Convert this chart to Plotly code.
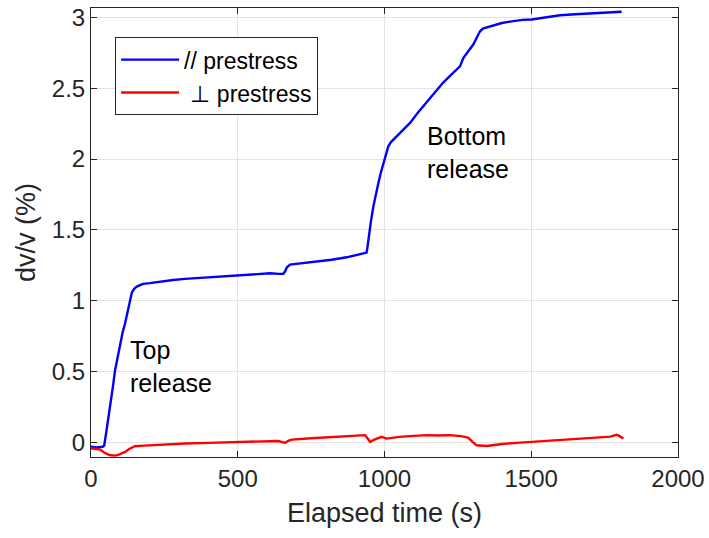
import plotly.graph_objects as go

# // prestress (blue)
par_t = [0, 20, 40, 45, 53, 60, 67, 75, 82, 90, 99, 108, 116, 124, 131, 139, 147, 156, 167, 178,
         200, 230, 260, 280, 320, 360, 400, 450, 496, 540, 580, 610, 640, 655, 662, 667, 678, 700,
         740, 780, 820, 871, 910, 939, 942, 945, 953, 962, 970, 979, 987, 996, 1005, 1013, 1022,
         1030, 1060, 1087, 1115, 1144, 1172, 1200, 1225, 1246, 1257, 1269, 1291, 1303, 1315, 1325,
         1335, 1360, 1400, 1428, 1470, 1501, 1540, 1598, 1650, 1711, 1760, 1790, 1808]
par_v = [-0.03, -0.035, -0.03, -0.02, 0.087, 0.18, 0.275, 0.40, 0.51, 0.60, 0.70, 0.78, 0.84, 0.92,
         0.98, 1.057, 1.085, 1.10, 1.11, 1.12, 1.125, 1.135, 1.14, 1.147, 1.155, 1.16, 1.168, 1.175,
         1.18, 1.185, 1.19, 1.194, 1.19, 1.19, 1.21, 1.235, 1.255, 1.26, 1.27, 1.276, 1.29, 1.307,
         1.325, 1.34, 1.38, 1.43, 1.55, 1.665, 1.75, 1.83, 1.90, 1.97, 2.04, 2.09, 2.12, 2.136, 2.2,
         2.255, 2.33, 2.40, 2.47, 2.54, 2.59, 2.63, 2.654, 2.714, 2.78, 2.81, 2.86, 2.90, 2.92, 2.937,
         2.96, 2.97, 2.982, 2.985, 2.995, 3.015, 3.022, 3.03, 3.036, 3.042, 3.04]

# ⊥ prestress (red)
perp_t = [0, 15, 31, 45, 59, 70, 82, 95, 105, 116, 130, 150, 180, 207, 260, 320, 400, 491, 560, 638,
          650, 661, 672, 684, 750, 820, 880, 934, 942, 951, 965, 990, 1007, 1050, 1100, 1144, 1180,
          1223, 1260, 1285, 1300, 1314, 1348, 1400, 1450, 1496, 1550, 1609, 1660, 1723, 1770, 1790,
          1797, 1814]
perp_v = [-0.04, -0.045, -0.05, -0.07, -0.085, -0.09, -0.092, -0.085, -0.075, -0.066, -0.045, -0.026,
          -0.022, -0.019, -0.012, -0.007, -0.002, 0.004, 0.008, 0.011, 0.005, -0.003, 0.012, 0.021,
          0.03, 0.04, 0.045, 0.052, 0.03, 0.004, 0.02, 0.04, 0.028, 0.04, 0.047, 0.052, 0.05, 0.052,
          0.045, 0.035, 0.005, -0.019, -0.024, -0.01, -0.002, 0.004, 0.012, 0.021, 0.028, 0.035,
          0.042, 0.055, 0.05, 0.028]

x_ticks = [0, 500, 1000, 1500, 2000]
y_ticks = [0, 0.5, 1, 1.5, 2, 2.5, 3]
y_tick_labels = ["0", "0.5", "1", "1.5", "2", "2.5", "3"]

FONT = "Liberation Sans, Arial, sans-serif"
AX = "#262626"

fig = go.Figure()
fig.add_trace(go.Scatter(x=par_t, y=par_v, mode="lines", name="// prestress",
                         line=dict(color="#0000ff", width=2.4)))
fig.add_trace(go.Scatter(x=perp_t, y=perp_v, mode="lines", name=" ⊥ prestress",
                         line=dict(color="#ff0000", width=2.4)))

fig.add_annotation(x=126, y=0.54, xref="x", yref="y", text="Top<br>release", showarrow=False,
                   xanchor="left", yanchor="middle", align="left",
                   font=dict(family=FONT, size=25, color="#000000"))
fig.add_annotation(x=1138, y=2.05, xref="x", yref="y", text="Bottom<br>release", showarrow=False,
                   xanchor="left", yanchor="middle", align="left",
                   font=dict(family=FONT, size=25, color="#000000"))

axis_common = dict(showline=True, linecolor=AX, linewidth=1, mirror="ticks", ticks="inside",
                   ticklen=6, tickcolor=AX, showgrid=True, gridcolor="#e3e3e3", gridwidth=1,
                   zeroline=False, tickfont=dict(family=FONT, size=24, color=AX))

fig.update_xaxes(range=[0, 2000], tickvals=x_ticks,
                 title=dict(text="Elapsed time (s)", font=dict(family=FONT, size=27, color=AX), standoff=12),
                 **axis_common)
fig.update_yaxes(range=[-0.102, 3.066], tickvals=y_ticks, ticktext=y_tick_labels,
                 title=dict(text="dv/v (%)", font=dict(family=FONT, size=27, color=AX), standoff=8),
                 **axis_common)

fig.update_layout(
    width=709, height=538,
    margin=dict(l=91, r=31, t=8, b=81, autoexpand=False),
    paper_bgcolor="white", plot_bgcolor="white",
    font=dict(family=FONT, color=AX),
    legend=dict(x=0.041, y=0.935, xanchor="left", yanchor="top", bgcolor="white",
                bordercolor="#262626", borderwidth=1, itemwidth=58,
                font=dict(family=FONT, size=23, color="#000000"), tracegroupgap=0),
    showlegend=True,
)

fig.write_html("out.html", config={"displayModeBar": False},
               post_script="document.body.style.margin='0';document.body.style.padding='0';")
